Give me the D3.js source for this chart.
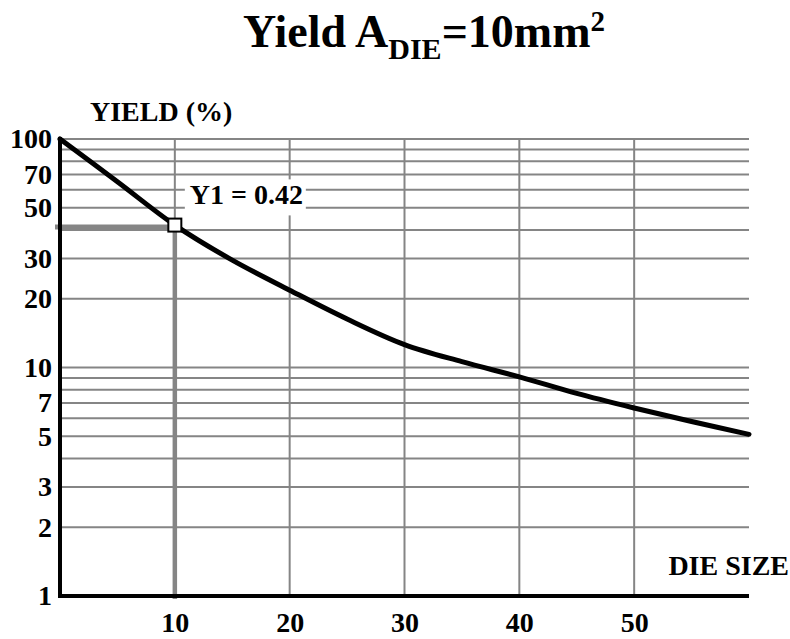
<!DOCTYPE html>
<html>
<head>
<meta charset="utf-8">
<script src="https://cdn.jsdelivr.net/npm/d3@7"></script>
<style>
  html, body { margin: 0; padding: 0; background: #fff; }
  text { font-family: "Liberation Serif", "Times New Roman", serif; font-weight: bold; fill: #000; }
</style>
</head>
<body>
<svg id="chart" width="790" height="639"></svg>
<script>
// ---- data ----
const dieSize  = [0, 5, 10, 15, 20, 25, 30, 35, 40, 45, 50, 55, 60];
const yieldPct = [100, 65, 42, 29.5, 21.8, 16.3, 12.6, 10.6, 9.1, 7.7, 6.65, 5.8, 5.1];
const yTickLabels = [1, 2, 3, 5, 7, 10, 20, 30, 50, 70, 100];
const yGridValues = [2, 3, 4, 5, 6, 7, 8, 9, 10, 20, 30, 40, 50, 60, 70, 80, 90, 100];
const xTickLabels = [10, 20, 30, 40, 50];
const markerX = [10];
const markerY = [42];
const markerLabel = ["Y1 = 0.42"];

// ---- layout ----
const svg = d3.select("#chart");
const x = d3.scaleLinear().domain([0, 60]).range([60, 749]);
const y = d3.scaleLog().domain([1, 100]).range([596, 139]);
const grey = "#858585";

// grid: horizontal
svg.append("g").selectAll("line").data(yGridValues).join("line")
  .attr("x1", x(0)).attr("x2", x(60))
  .attr("y1", d => y(d)).attr("y2", d => y(d))
  .attr("stroke", grey).attr("stroke-width", 2);

// grid: vertical
svg.append("g").selectAll("line").data(xTickLabels).join("line")
  .attr("x1", d => x(d)).attr("x2", d => x(d))
  .attr("y1", y(100) - 1).attr("y2", y(1) + 2)
  .attr("stroke", grey).attr("stroke-width", 2);

// label with white background
const lab = svg.append("g");
lab.append("rect").attr("x", x(10) + 10).attr("y", y(70) + 5)
  .attr("width", 121).attr("height", 36).attr("fill", "#fff");
lab.append("text").attr("x", x(10) + 15).attr("y", y(50) - 4)
  .attr("font-size", 28).text(markerLabel[0]);

// annotation lines
svg.append("line")
  .attr("x1", x(0) - 5).attr("x2", x(markerX[0]))
  .attr("y1", y(markerY[0]) + 2).attr("y2", y(markerY[0]) + 2)
  .attr("stroke", grey).attr("stroke-width", 5);
svg.append("line")
  .attr("x1", x(markerX[0])).attr("x2", x(markerX[0]))
  .attr("y1", y(markerY[0])).attr("y2", y(1) + 3)
  .attr("stroke", grey).attr("stroke-width", 4.5);

// axes lines
svg.append("line").attr("x1", x(0)).attr("x2", x(0))
  .attr("y1", y(100) - 2).attr("y2", y(1) + 2)
  .attr("stroke", "#000").attr("stroke-width", 4);
svg.append("line").attr("x1", x(0) - 2).attr("x2", x(60))
  .attr("y1", y(1)).attr("y2", y(1))
  .attr("stroke", "#000").attr("stroke-width", 4);

// curve
const line = d3.line().x(d => x(d[0])).y(d => y(d[1])).curve(d3.curveCatmullRom.alpha(0.5));
svg.append("path").datum(dieSize.map((d, i) => [d, yieldPct[i]]))
  .attr("d", line).attr("fill", "none")
  .attr("stroke", "#000").attr("stroke-width", 5).attr("stroke-linecap", "round");

// marker
svg.append("rect")
  .attr("x", x(markerX[0]) - 6.5).attr("y", y(markerY[0]) - 6.5)
  .attr("width", 13).attr("height", 13)
  .attr("fill", "#fff").attr("stroke", "#000").attr("stroke-width", 2);

// tick labels via axes
const yAxis = svg.append("g").attr("transform", `translate(${x(0)},0)`)
  .call(d3.axisLeft(y).tickValues(yTickLabels).tickFormat(d3.format("d")).tickSize(0).tickPadding(8));
yAxis.select(".domain").remove();
yAxis.selectAll("text").attr("font-size", 28).attr("font-family", null);

const xAxis = svg.append("g").attr("transform", `translate(0,${y(1)})`)
  .call(d3.axisBottom(x).tickValues(xTickLabels).tickFormat(d3.format("d")).tickSize(0).tickPadding(16));
xAxis.select(".domain").remove();
xAxis.selectAll("text").attr("font-size", 28).attr("font-family", null);

// axis titles
svg.append("text").attr("x", 90).attr("y", 121).attr("font-size", 28).text("YIELD (%)");
svg.append("text").attr("x", 789).attr("y", 575).attr("text-anchor", "end")
  .attr("font-size", 28).text("DIE SIZE");

// title
const t = svg.append("text").attr("x", 243).attr("y", 47).attr("font-size", 46);
t.append("tspan").text("Yield A");
t.append("tspan").attr("font-size", 30).attr("dy", 12).text("DIE");
t.append("tspan").attr("dy", -12).text("=10mm");
t.append("tspan").attr("font-size", 29).attr("dy", -16).text("2");
</script>
</body>
</html>
